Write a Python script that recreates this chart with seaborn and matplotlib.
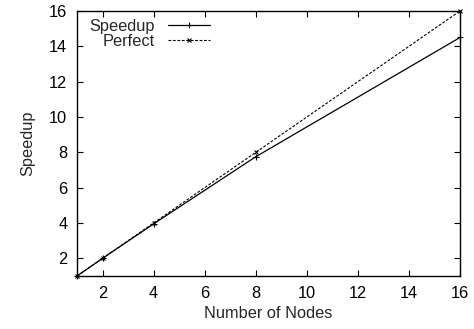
import matplotlib
matplotlib.use("Agg")
import matplotlib.pyplot as plt
import seaborn as sns
import pandas as pd

nodes = [1, 2, 4, 8, 16]
speedup = [1.0, 2.0, 3.95, 7.75, 14.5]
perfect = [1, 2, 4, 8, 16]
xticks = [2, 4, 6, 8, 10, 12, 14, 16]
yticks = [2, 4, 6, 8, 10, 12, 14, 16]

sns.set_theme(style="ticks")
plt.rcParams['font.family'] = ['Liberation Sans', 'DejaVu Sans']

df = pd.DataFrame({"nodes": nodes, "Speedup": speedup, "Perfect": perfect})

fig = plt.figure(figsize=(4.74, 3.29), dpi=100)
ax = fig.add_axes([0.1624, 0.161, 0.8081, 0.8056])

sns.lineplot(data=df, x="nodes", y="Speedup", ax=ax, color="black", lw=0.9,
             marker="+", markersize=4, mew=0.8, mec="black", label="Speedup",
             clip_on=False)
sns.lineplot(data=df, x="nodes", y="Perfect", ax=ax, color="black", lw=0.8,
             linestyle=(0, (2.5, 1.5)), marker="x", markersize=3.2, mew=0.8,
             mec="black", label="Perfect", clip_on=False)

ax.set_xlim(1, 16)
ax.set_ylim(1, 16)
ax.set_xticks(xticks)
ax.set_yticks(yticks)
ax.tick_params(direction="in", length=4, width=0.8, top=True, right=True,
               labelsize=11.8, colors="black", pad=7)
for s in ax.spines.values():
    s.set_linewidth(1.0)
    s.set_color("black")
ax.set_xlabel("Number of Nodes", fontsize=11.8, labelpad=4)
ax.set_ylabel("Speedup", fontsize=11.8, labelpad=10)

leg = ax.legend(loc="upper left", frameon=False, markerfirst=False, fontsize=11.8,
                handlelength=2.6, handletextpad=0.8, borderaxespad=0.1,
                labelspacing=0.0, bbox_to_anchor=(0.01, 1.0))
for t in leg.get_texts():
    t.set_ha("right")
leg._legend_box.align = "right"

fig.savefig("out.png", dpi=100)
